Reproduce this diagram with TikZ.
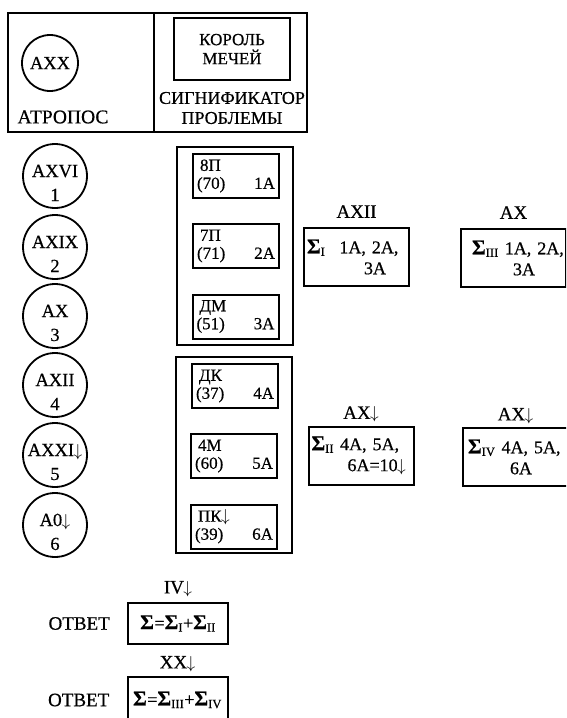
\documentclass[tikz,border=0pt]{standalone}
\usepackage{fontspec}
\setmainfont{Liberation Serif}[FakeBold=0.5]
\usetikzlibrary{positioning}
\newcommand{\arrdn}{\kern-0.5pt$\downarrow$}
\newcommand{\cardtxt}[3]{\hspace*{3pt}#1\\#2\hskip 0pt plus 1filll #3}
\newcommand{\sig}[1]{{\fontsize{21}{20}\selectfont\bfseries Σ}\textsubscript{#1}}
\tikzset{
    hdr/.style={rectangle, draw, line width=1.2pt, outer sep=0pt, inner sep=0pt,
                minimum height=119pt},
    arc/.style={circle, draw, line width=1.8pt, minimum size=64pt, inner sep=0pt},
    arctxt/.style={font=\fontsize{18.5}{20}\selectfont, inner sep=0pt, anchor=base},
    grp/.style={rectangle, draw, line width=1.2pt, minimum width=116pt},
    card/.style={rectangle, draw, line width=2pt, text width=78pt, inner xsep=4pt,
                 minimum height=44pt, align=left, font=\fontsize{17}{18}\selectfont},
    kingbox/.style={rectangle, draw, line width=2pt, minimum width=116pt,
                    minimum height=62pt, align=center, font=\fontsize{17}{19}\selectfont},
    sumbox/.style={rectangle, draw, line width=2pt, minimum height=58pt, text width=99pt,
                   inner xsep=3pt, align=left, font=\fontsize{18}{21}\selectfont},
    ansbox/.style={rectangle, draw, line width=2pt, minimum width=100pt,
                   font=\fontsize{18}{20}\selectfont},
    lbl/.style={font=\fontsize{19}{20}\selectfont, inner sep=1pt, align=center},
}
\begin{document}
\begin{tikzpicture}[x=1pt, y=-1pt]
    \path[use as bounding box, clip] (0,0) rectangle (566,718);
    \fill[white] (0,0) rectangle (566,718);

    % header
    \node[hdr, minimum width=146pt] (hleft) at (81,72.5) {};
    \node[hdr, minimum width=153pt, right=0pt of hleft] (hright) {};
    \node[arc, minimum size=56pt, font=\fontsize{18.5}{20}\selectfont] (atropos) at (50,63) {AXX};
    \node[lbl, font=\fontsize{19.5}{20}\selectfont] (atroposname) at (63,117) {АТРОПОС};
    \node[kingbox] (king) at (232,49) {КОРОЛЬ\\МЕЧЕЙ};
    \node[lbl, font=\fontsize{18}{20}\selectfont] (signif) at (232,108) {СИГНИФИКАТОР\\ПРОБЛЕМЫ};

    % arcana
    \foreach \n/\y/\ark in {1/176/AXVI, 2/247/AXIX, 3/316/AX, 4/385/AXII,
                            5/455/AXXI\arrdn, 6/525/A0\arrdn} {
        \node[arc] (arc\n) at (55,\y) {};
        \node[arctxt, yshift=-1pt] (arcname\n) at (arc\n.center) {\ark};
        \node[arctxt, yshift=-25pt] (arcnum\n) at (arc\n.center) {\n};
    }

    % cards
    \node[grp, minimum height=198pt] (grpA) at (235,246) {};
    \node[grp, minimum height=196pt] (grpB) at (234,455) {};
    \foreach \n/\x/\y/\top/\num/\pos in {1/236/176/8П/(70)/1А, 2/236/246/7П/(71)/2А,
                                        3/235.5/316.5/ДМ/(51)/3А, 4/235/386/ДК/(37)/4А,
                                        5/234/456/4М/(60)/5А, 6/234/526.5/ПК\arrdn/(39)/6А} {
        \node[card] (card\n) at (\x,\y) {\cardtxt{\top}{\num}{\pos}};
    }

    % sums
    \node[sumbox] (sumI) at (356.5,257)
        {\mbox{\sig{I}\hspace{8pt} 1А, 2А,}\\\hspace*{57pt}3А};
    \node[sumbox] (sumIII) at (513.5,258)
        {\mbox{\hspace*{8pt}\sig{III} 1А, 2А,}\\\hspace*{49pt}3А};
    \node[sumbox] (sumII) at (361,455.5)
        {\mbox{\sig{II} 4А, 5А,}\\\hspace*{36pt}6А=10\arrdn};
    \node[sumbox] (sumIV) at (515.5,457)
        {\mbox{\hspace*{2pt}\sig{IV} 4А, 5А,}\\\hspace*{44pt}6А};
    \node[lbl, above=8pt of sumI] (arkI) {AXII};
    \node[lbl, above=8pt of sumIII] (arkIII) {AX};
    \node[lbl, above=2pt of sumII] (arkII) {AX\arrdn};
    \node[lbl, above=2pt of sumIV] (arkIV) {AX\arrdn};

    % answers
    \node[ansbox, minimum height=41pt] (ansA) at (178,623.5) {\sig{}=\sig{I}+\sig{II}};
    \node[ansbox, minimum height=46pt] (ansB) at (177.5,700) {\sig{}=\sig{III}+\sig{IV}};
    \node[lbl, left=16pt of ansA] (otvetA) {ОТВЕТ};
    \node[lbl, left=16pt of ansB] (otvetB) {ОТВЕТ};
    \node[lbl, above=4pt of ansA] (arkA) {IV\arrdn};
    \node[lbl, above=3pt of ansB] (arkB) {XX\arrdn};
\end{tikzpicture}
\end{document}
